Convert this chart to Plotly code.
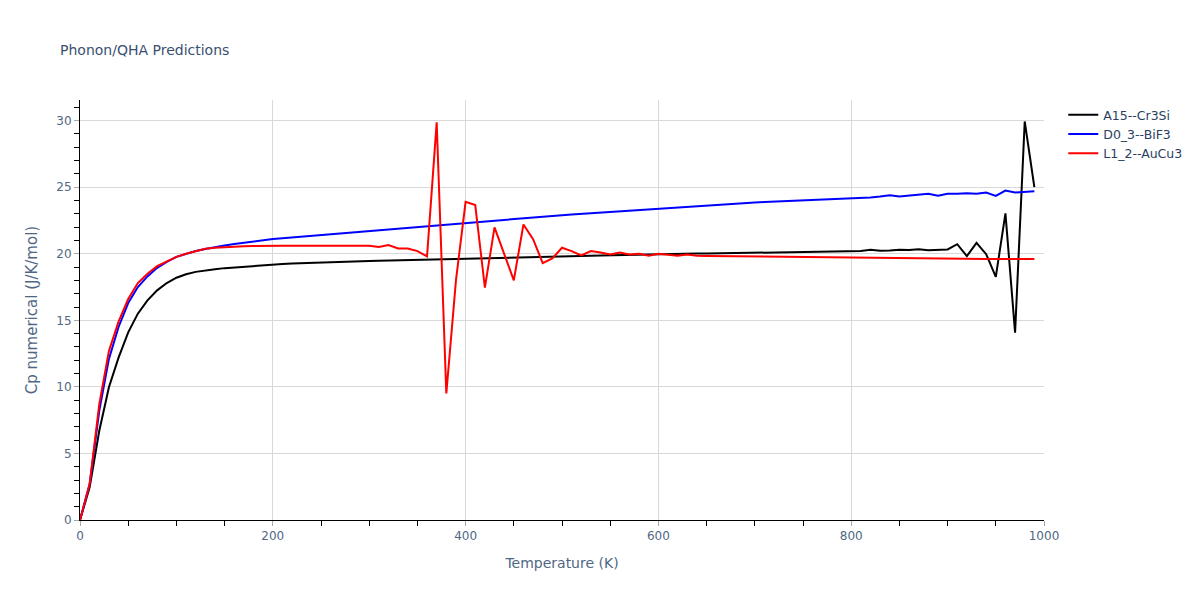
import plotly.graph_objects as go

temperature = list(range(0, 1000, 10))

cp_a15 = [0, 2.45, 6.7, 9.97, 12.2, 14.1, 15.5, 16.5, 17.25, 17.8,
          18.2, 18.46, 18.64, 18.76, 18.84, 18.92, 18.98, 19.04, 19.1, 19.15,
          19.2, 19.23, 19.26, 19.29, 19.32, 19.35, 19.37, 19.39, 19.41, 19.43,
          19.45, 19.47, 19.49, 19.51, 19.53, 19.55, 19.57, 19.59, 19.61, 19.63,
          19.65, 19.66, 19.67, 19.68, 19.69, 19.71, 19.73, 19.75, 19.77, 19.79,
          19.8, 19.82, 19.83, 19.85, 19.86, 19.88, 19.9, 19.92, 19.94, 19.96,
          19.97, 19.98, 19.99, 20.0, 20.01, 20.02, 20.03, 20.05, 20.07, 20.09,
          20.1, 20.11, 20.13, 20.14, 20.15, 20.16, 20.17, 20.18, 20.19, 20.2,
          20.2, 20.2, 20.3, 20.22, 20.25, 20.3, 20.28, 20.33, 20.27, 20.3,
          20.32, 20.72, 19.82, 20.82, 19.97, 18.26, 23.03, 14.07, 29.94, 25.0]

cp_d03 = [0, 2.7, 8.2, 12.1, 14.5, 16.3, 17.5, 18.3, 18.94, 19.39,
          19.77, 20.0, 20.2, 20.35, 20.5, 20.62, 20.73, 20.83, 20.92, 21.01,
          21.1, 21.17, 21.23, 21.3, 21.36, 21.43, 21.49, 21.56, 21.62, 21.69,
          21.75, 21.81, 21.87, 21.93, 21.99, 22.05, 22.11, 22.17, 22.23, 22.29,
          22.35, 22.41, 22.46, 22.52, 22.57, 22.63, 22.68, 22.74, 22.79, 22.85,
          22.9, 22.95, 23.0, 23.05, 23.1, 23.15, 23.2, 23.25, 23.3, 23.35,
          23.4, 23.45, 23.5, 23.54, 23.59, 23.63, 23.68, 23.72, 23.77, 23.81,
          23.85, 23.88, 23.91, 23.94, 24.0, 24.03, 24.06, 24.09, 24.12, 24.16,
          24.2, 24.22, 24.23, 24.3, 24.4, 24.3, 24.35, 24.4, 24.5, 24.35,
          24.5, 24.5, 24.55, 24.5, 24.6, 24.35, 24.75, 24.6, 24.65, 24.7]

cp_l12 = [0, 2.7, 8.7, 12.7, 14.9, 16.6, 17.8, 18.5, 19.07, 19.44,
          19.77, 20.0, 20.2, 20.37, 20.45, 20.5, 20.53, 20.56, 20.58, 20.6,
          20.6, 20.6, 20.6, 20.6, 20.6, 20.6, 20.6, 20.6, 20.58, 20.6,
          20.6, 20.5, 20.65, 20.4, 20.4, 20.2, 19.8, 29.87, 9.5, 18.0,
          23.9, 23.66, 17.46, 21.98, 20.0, 18.0, 22.2, 21.1, 19.3, 19.65,
          20.45, 20.2, 19.87, 20.2, 20.1, 19.95, 20.1, 19.95, 20.0, 19.85,
          20.0, 19.9, 19.85, 19.95, 19.85, 19.84, 19.83, 19.82, 19.81, 19.8,
          19.79, 19.78, 19.77, 19.76, 19.75, 19.74, 19.73, 19.72, 19.71, 19.7,
          19.69, 19.68, 19.67, 19.66, 19.65, 19.64, 19.64, 19.63, 19.63, 19.62,
          19.62, 19.61, 19.61, 19.6, 19.6, 19.6, 19.6, 19.6, 19.6, 19.6]

series = [
    ("A15--Cr3Si", cp_a15, "black"),
    ("D0_3--BiF3", cp_d03, "blue"),
    ("L1_2--AuCu3", cp_l12, "red"),
]

fig = go.Figure()
for name, vals, color in series:
    fig.add_trace(go.Scatter(x=temperature, y=vals, mode="lines", name=name,
                             line=dict(color=color, width=2)))

axis_common = dict(
    showline=True, linecolor="black", linewidth=1,
    showgrid=True, gridcolor="#d9d9d9", gridwidth=1,
    ticks="outside", ticklen=5, tickcolor="#aaaaaa",
    zeroline=False,
    tickfont=dict(size=12, color="#506784"),
)

fig.update_layout(
    width=1200, height=600,
    paper_bgcolor="white", plot_bgcolor="white",
    font=dict(family="Verdana, DejaVu Sans, sans-serif", color="#2a3f5f", size=12),
    title=dict(text="Phonon/QHA Predictions", x=0.05, y=0.925,
               font=dict(size=14, color="#3a4f6f")),
    margin=dict(l=80, r=156, t=100, b=80),
    legend=dict(x=1.02, y=1, xanchor="left", yanchor="top",
                font=dict(size=12.5, color="#2a3f5f")),
    xaxis=dict(title=dict(text="Temperature (K)", font=dict(size=14, color="#506784")),
               range=[0, 1000], dtick=200,
               minor=dict(dtick=50, ticks="outside", ticklen=5, tickcolor="black", showgrid=False),
               **axis_common),
    yaxis=dict(title=dict(text="Cp numerical (J/K/mol)", font=dict(size=15, color="#506784")),
               range=[0, 31.55], dtick=5,
               minor=dict(dtick=1, ticks="outside", ticklen=5, tickcolor="black", showgrid=False),
               **axis_common),
)

fig.write_html("out.html")
